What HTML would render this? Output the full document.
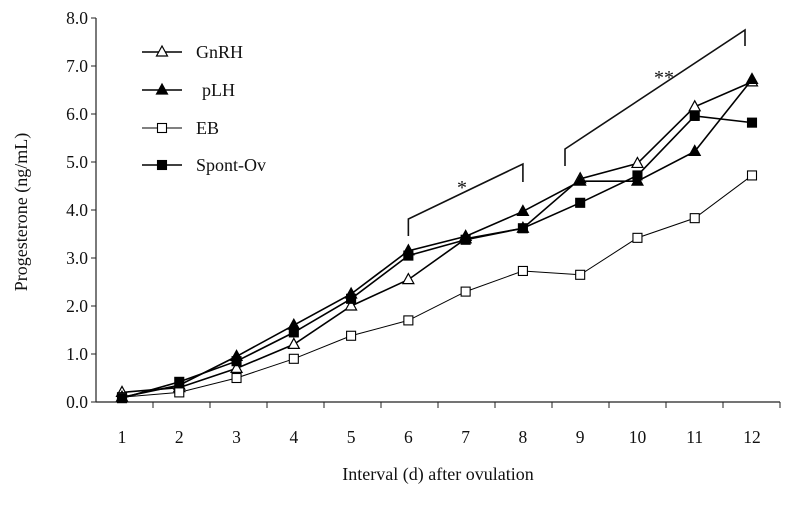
<!DOCTYPE html>
<html><head><meta charset="utf-8"><style>
body{margin:0;background:#fff}
svg text{font-family:"Liberation Serif",serif;fill:#111}
</style></head><body>
<svg width="791" height="500" id="chart">
</svg>
<script>
const categories=[1,2,3,4,5,6,7,8,9,10,11,12];
const gnrh=[0.2,0.3,0.7,1.2,2.0,2.55,3.4,3.62,4.65,4.97,6.15,6.67];
const plh=[0.1,0.35,0.95,1.6,2.25,3.15,3.45,3.97,4.6,4.6,5.22,6.72];
const eb=[0.1,0.2,0.5,0.9,1.38,1.7,2.3,2.73,2.65,3.42,3.83,4.72];
const spont=[0.08,0.42,0.85,1.45,2.15,3.05,3.38,3.62,4.15,4.72,5.96,5.82];
const yTicks=["0.0","1.0","2.0","3.0","4.0","5.0","6.0","7.0","8.0"];
const NS="http://www.w3.org/2000/svg";
const svg=document.getElementById('chart');
const x0=96,x1=780,yb=402,yt=18;
const xs=i=>122+i*(752-122)/11;
const ys=v=>yb-(v/8)*(yb-yt);
function mk(t,a,p){const e=document.createElementNS(NS,t);for(const k in a)e.setAttribute(k,a[k]);(p||svg).appendChild(e);return e;}
let e=mk('line',{x1:x0,y1:yt,x2:x0,y2:yb,stroke:'#222','stroke-width':1.2});


e=mk('line',{x1:x0,y1:yb,x2:x1,y2:yb,stroke:'#222','stroke-width':1.2});


yTicks.forEach((t,i)=>{const y=ys(parseFloat(t));
 mk('line',{x1:x0-5,y1:y,x2:x0,y2:y,stroke:'#222'});
 const tx=mk('text',{x:x0-8,y:y+6,'text-anchor':'end','font-size':17.5});tx.textContent=t;
 
 
});
categories.forEach((c,i)=>{
 const xb=x0+(i)*(x1-x0)/12;
 mk('line',{x1:xb+ (x1-x0)/12,y1:yb,x2:xb+(x1-x0)/12,y2:yb+6,stroke:'#222'});
 const tx=mk('text',{x:xs(i),y:443,'text-anchor':'middle','font-size':17.5});tx.textContent=c;
 
 
});
e=mk('text',{x:438,y:480,'text-anchor':'middle','font-size':18});e.textContent='Interval (d) after ovulation';


e=mk('text',{x:27,y:212,'text-anchor':'middle','font-size':18,transform:'rotate(-90 27 212)'});e.textContent='Progesterone (ng/mL)';


function marker(type,x,y,g){
 if(type==='tri'||type==='tri-f') return mk('polygon',{points:`${x},${y-6} ${x-5.5},${y+4} ${x+5.5},${y+4}`,fill:type==='tri'?'#fff':'#000',stroke:'#000','stroke-width':1.2},g);
 return mk('rect',{x:x-4.5,y:y-4.5,width:9,height:9,fill:type==='sq'?'#fff':'#000',stroke:'#000','stroke-width':1.1},g);
}
const series=[['gnrh',gnrh,'tri',1.6],['plh',plh,'tri-f',1.6],['eb',eb,'sq',1],['spont-ov',spont,'sq-f',1.6]];
series.forEach(([n,d,m,w])=>{
 const g=mk('g',{});
 
 
 mk('polyline',{points:d.map((v,i)=>xs(i)+','+ys(v)).join(' '),fill:'none',stroke:'#000','stroke-width':w},g);
 d.forEach((v,i)=>{const p=marker(m,xs(i),ys(v),g);
  
  });
});
e=mk('polyline',{points:`${xs(5)},236 ${xs(5)},219 ${xs(7)},164 ${xs(7)},182`,fill:'none',stroke:'#111','stroke-width':1.6});


e=mk('polyline',{points:`565,166 565,149 745,30 745,46`,fill:'none',stroke:'#111','stroke-width':1.6});


e=mk('text',{x:462,y:194,'text-anchor':'middle','font-size':20});e.textContent='*';


e=mk('text',{x:664,y:84,'text-anchor':'middle','font-size':20});e.textContent='**';


const lg=[['GnRH','tri',52],['pLH','tri-f',90],['EB','sq',128],['Spont-Ov','sq-f',165]];
lg.forEach(([t,m,y])=>{
 const g=mk('g',{});
 
 
 mk('line',{x1:142,y1:y,x2:182,y2:y,stroke:'#000','stroke-width':m==='sq'?1:1.6},g);
 marker(m,162,y,g);
 const tx=mk('text',{x:m==='tri-f'?202:196,y:y+6,'font-size':18},g);tx.textContent=t;
});
</script>
</body></html>
